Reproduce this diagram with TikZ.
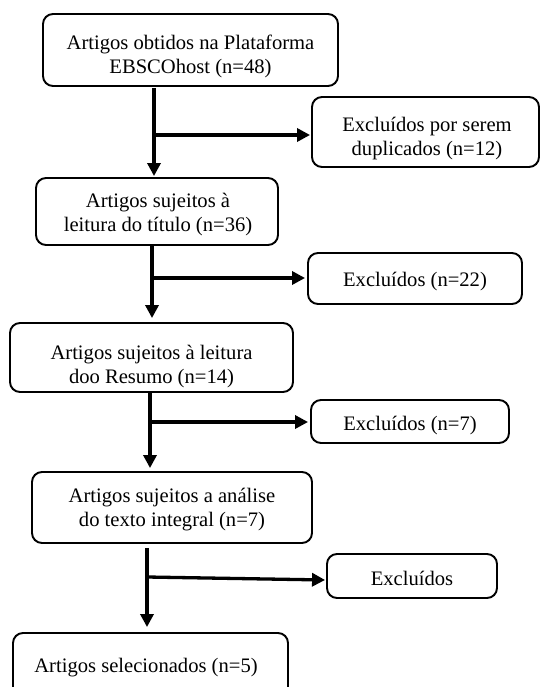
\documentclass[tikz,border=0pt]{standalone}
\usepackage{fontspec}
\setmainfont{Liberation Serif}
\usetikzlibrary{arrows.meta,calc}
\begin{document}
\begin{tikzpicture}[x=1pt,y=-1pt,
  box/.style={draw, line width=1.9pt, rounded corners=10pt, inner sep=0pt},
  txt/.style={inner sep=0pt, align=center, font=\fontsize{20.6}{24}\selectfont},
  arr/.style={line width=3.3pt, -{Triangle[length=13pt,width=13pt]}}]
\clip (0,0) rectangle (541,687);
\useasboundingbox (0,0) rectangle (541,687);
\fill[white] (0,0) rectangle (541,687);
% boxes
\node[box, minimum width=295pt, minimum height=72pt] (b1) at (190.5,50) {};
\node[box, minimum width=227pt, minimum height=70pt] (b2) at (425.5,132) {};
\node[box, minimum width=242pt, minimum height=67pt] (b3) at (157,211.5) {};
\node[box, minimum width=214pt, minimum height=51pt] (b4) at (415,278.5) {};
\node[box, minimum width=283pt, minimum height=69pt] (b5) at (151.5,357.5) {};
\node[box, minimum width=198pt, minimum height=43pt] (b6) at (410,421.5) {};
\node[box, minimum width=280pt, minimum height=71pt] (b7) at (172,507.5) {};
\node[box, minimum width=170pt, minimum height=44pt] (b8) at (412,576) {};
\node[box, minimum width=275pt, minimum height=80pt] (b9) at (150.5,673) {};
% texts
\node[txt] (t1) at (190.5,57) {\strut Artigos obtidos na Plataforma\\\strut EBSCOhost (n=48)};
\node[txt] (t2) at (427,139) {\strut Excluídos por serem\\\strut duplicados (n=12)};
\node[txt] (t3) at (158,215) {\strut Artigos sujeitos à\\\strut leitura do título (n=36)};
\node[txt] (t4) at (415,282) {\strut Excluídos (n=22)};
\node[txt] (t5) at (151.5,367) {\strut Artigos sujeitos à leitura\\\strut doo Resumo (n=14)};
\node[txt] (t6) at (410,426) {\strut Excluídos (n=7)};
\node[txt] (t7) at (172,510) {\strut Artigos sujeitos a análise\\\strut do texto integral (n=7)};
\node[txt] (t8) at (412,581) {\strut Excluídos};
\node[txt] (t9) at (146,668) {\strut Artigos selecionados (n=5)};
% junctions
\coordinate (j1) at (154,135);
\coordinate (j2) at (152,278);
\coordinate (j3) at (150,422);
\coordinate (j4) at (147,577);
\coordinate (e4) at ($(b8.west)+(0,4)$);
% connectors
\draw[arr, shorten <=1pt, shorten >=1pt] (j1 |- b1.south) -- (j1 |- b3.north);
\draw[arr, shorten >=1pt] (j1) -- (b2.west |- j1);
\draw[arr, shorten >=4pt] (j2 |- b3.south) -- (j2 |- b5.north);
\draw[arr, shorten >=2pt] (j2) -- (b4.west |- j2);
\draw[arr, shorten >=3pt] (j3 |- b5.south) -- (j3 |- b7.north);
\draw[arr, shorten >=2pt] (j3) -- (b6.west |- j3);
\draw[arr, shorten <=4pt, shorten >=5pt] (j4 |- b7.south) -- (j4 |- b9.north);
\draw[arr, shorten <=2pt, shorten >=1pt] (j4) -- (e4);
\end{tikzpicture}
\end{document}
